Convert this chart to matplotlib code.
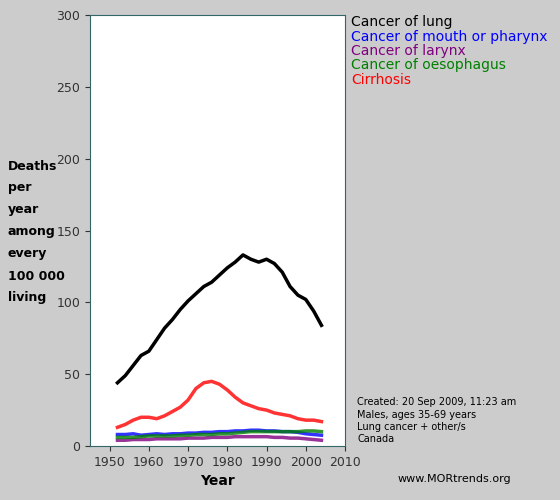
import matplotlib
matplotlib.use('Agg')
import matplotlib.pyplot as plt

years = list(range(1952, 2005, 2))
lung = [44, 49, 56, 63, 66, 74, 82, 88, 95, 101, 106, 111, 114, 119, 124, 128, 133,
        130, 128, 130, 127, 121, 111, 105, 102, 94, 84]
mouth = [8, 8, 8.5, 7.5, 8, 8.5, 8, 8.5, 8.5, 9, 9, 9.5, 9.5, 10, 10, 10.5, 10.5,
         11, 11, 10.5, 10.5, 10, 10, 9.5, 8.5, 8, 7.5]
larynx = [4, 4, 4.5, 4.5, 4.5, 5, 5, 5, 5, 5.5, 5.5, 5.5, 6, 6, 6, 6.5, 6.5,
          6.5, 6.5, 6.5, 6, 6, 5.5, 5.5, 5, 4.5, 4]
oeso = [6, 6, 6, 6.5, 7, 7, 7, 7, 7.5, 7.5, 8, 8, 8, 8.5, 8.5, 9, 9.5,
        10, 10, 10, 10, 10, 10, 10, 10.5, 10.5, 10]
cirr = [13, 15, 18, 20, 20, 19, 21, 24, 27, 32, 40, 44, 45, 43, 39, 34, 30,
        28, 26, 25, 23, 22, 21, 19, 18, 18, 17]

series = [("Cancer of lung", lung, "black"),
          ("Cancer of mouth or pharynx", mouth, "blue"),
          ("Cancer of larynx", larynx, "purple"),
          ("Cancer of oesophagus", oeso, "green"),
          ("Cirrhosis", cirr, "red")]

fig = plt.figure(figsize=(5.6, 5.0), dpi=100, facecolor='#cccccc')
ax = fig.add_axes([90/560, 54/500, 255/560, 431/500])
ax.set_facecolor('white')
draw_order = [1, 2, 3, 4, 0]
for i in draw_order:
    name, vals, col = series[i]
    ax.plot(years, vals, color=col, lw=2.5, alpha=0.8 if i else 1)
ax.set_xlim(1945, 2010)
ax.set_ylim(0, 300)
ax.set_xticks(range(1950, 2011, 10))
ax.set_yticks(range(0, 301, 50))
ax.tick_params(colors='#333333', labelsize=9, labelcolor='#333333')
for s in ax.spines.values():
    s.set_color('#336666')
ax.set_xlabel('Year', fontsize=10, fontweight='bold')

for k, line in enumerate(["Deaths", "per", "year", "among", "every", "100 000", "living"]):
    fig.text(8/560, 1 - (166 + k*22)/500, line, fontsize=9, fontweight='bold', va='center')

for k, (name, vals, col) in enumerate(series):
    fig.text(351/560, 1 - (22 + k*14.5)/500, name, color=col, fontsize=10, va='center')

info = ["Created: 20 Sep 2009, 11:23 am", "Males, ages 35-69 years",
        "Lung cancer + other/s", "Canada"]
for k, line in enumerate(info):
    fig.text(357/560, 1 - (402 + k*12.5)/500, line, fontsize=7, va='center')
fig.text(398/560, 1 - 479/500, "www.MORtrends.org", fontsize=8, va='center')

fig.savefig('out.png', dpi=100, facecolor=fig.get_facecolor())
